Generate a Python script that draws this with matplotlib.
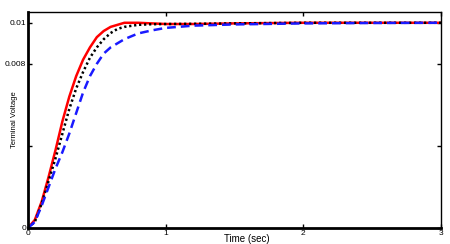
import matplotlib
matplotlib.use('Agg')
import matplotlib.pyplot as plt

# waktu (detik) dan tegangan terminal untuk tiga kasus
t = [0, 0.05, 0.1, 0.15, 0.2, 0.25, 0.3, 0.35, 0.4, 0.45, 0.5, 0.55, 0.6,
     0.65, 0.7, 0.8, 0.9, 1.0, 1.2, 1.5, 2.0, 2.5, 3.0]
v_red = [0, 0.0004, 0.0013, 0.0025, 0.0038, 0.0052, 0.0064, 0.0074, 0.0082,
         0.0088, 0.0093, 0.0096, 0.0098, 0.0099, 0.0100, 0.0100, 0.00997,
         0.00994, 0.00994, 0.00997, 0.0100, 0.0100, 0.0100]
v_black = [0, 0.0003, 0.0012, 0.0023, 0.0034, 0.0046, 0.0058, 0.0068, 0.0076,
           0.0083, 0.0088, 0.0092, 0.0095, 0.0097, 0.0098, 0.0099, 0.00993,
           0.00994, 0.00995, 0.00997, 0.0100, 0.0100, 0.0100]
v_blue = [0, 0.0003, 0.0011, 0.0020, 0.0029, 0.0037, 0.0046, 0.0056, 0.0066,
          0.0074, 0.0080, 0.0085, 0.0088, 0.0090, 0.0092, 0.00948, 0.00963,
          0.00975, 0.00986, 0.00992, 0.00997, 0.00999, 0.0100]

xticks = [0, 1, 2, 3]
yticks = [0, 0.004, 0.008, 0.01]
ytick_labels = ['0', '', '0.008', '0.01']

plt.rcParams['font.family'] = ['Liberation Sans', 'DejaVu Sans']
plt.rcParams['font.size'] = 6

fig = plt.figure(figsize=(4.5, 2.44), dpi=100)
ax = fig.add_axes([28 / 450, 16 / 244, 413 / 450, 216.3 / 244])

ax.plot(t, v_red, color='red', lw=1.8, ls='-')
ax.plot(t, v_black, color='black', lw=1.8, ls=(0, (0.9, 1.1)))
ax.plot(t, v_blue, color='#1a1aff', lw=1.8, ls=(0, (3.5, 2)))

ax.set_xlim(0, 3)
ax.set_ylim(0, 0.01054)
ax.set_xticks(xticks)
ax.set_xticklabels([str(x) for x in xticks])
ax.set_yticks(yticks)
ax.set_yticklabels(ytick_labels)

# garis sumbu: kiri dan bawah tebal, atas dan kanan tipis
ax.spines['left'].set_linewidth(2)
ax.spines['bottom'].set_linewidth(2)
ax.spines['top'].set_linewidth(1)
ax.spines['right'].set_linewidth(1)

ax.tick_params(direction='in', length=3, width=1, top=True, right=True)
ax.tick_params(axis='y', pad=1.5)
ax.tick_params(axis='x', pad=1.5)

ax.set_xlabel('Time (sec)', fontsize=7, labelpad=0)
ax.xaxis.set_label_coords(0.53, -0.03)
ax.set_ylabel('Terminal Voltage', fontsize=5.5)
ax.yaxis.set_label_coords(-0.025, 0.5)

fig.savefig('out.png', dpi=100)
